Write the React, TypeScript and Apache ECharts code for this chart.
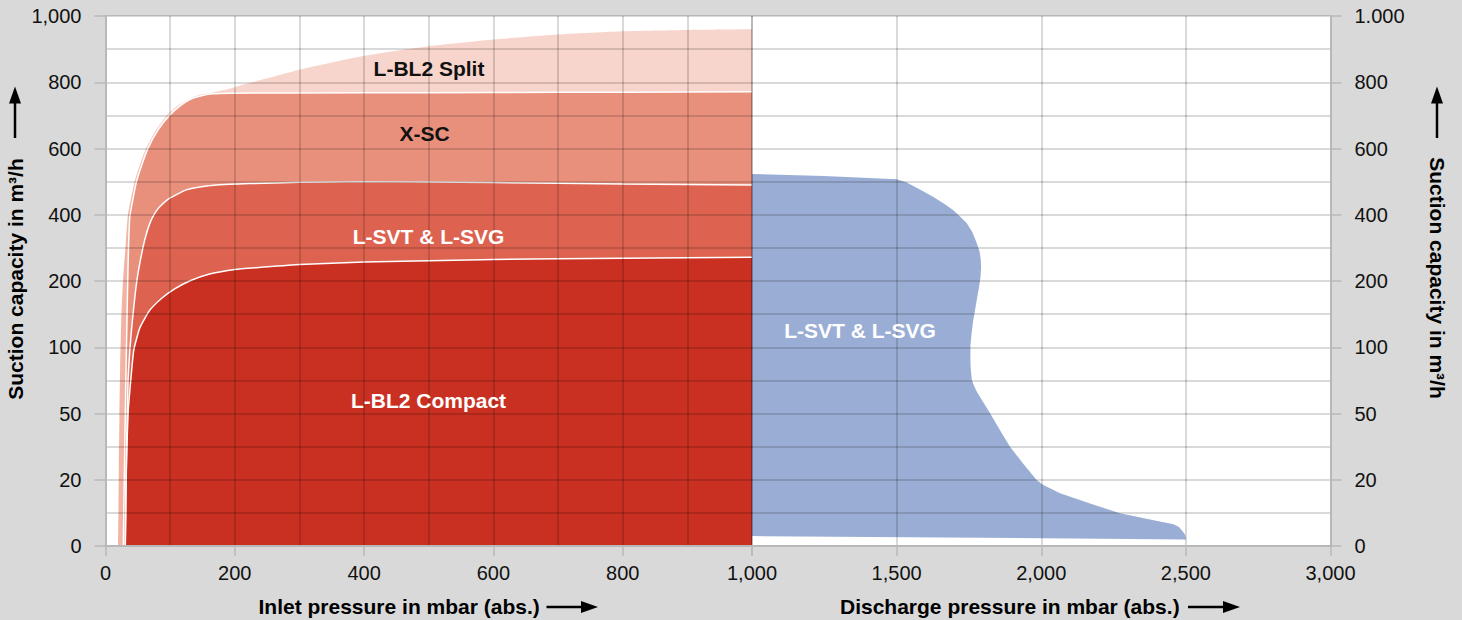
import React, { useEffect, useRef } from "react";
import * as echarts from "echarts";

// ---- Axis definitions ----
const Y_TICKS = [0, 20, 50, 100, 200, 400, 600, 800, 1000];
const LEFT_Y_LABELS = ["0", "20", "50", "100", "200", "400", "600", "800", "1,000"];
const RIGHT_Y_LABELS = ["0", "20", "50", "100", "200", "400", "600", "800", "1.000"];
const INLET_TICKS = [0, 200, 400, 600, 800, 1000];
const INLET_LABELS = ["0", "200", "400", "600", "800", "1,000"];
const DISCHARGE_TICKS = [1000, 1500, 2000, 2500, 3000];
const DISCHARGE_LABELS = ["", "1,500", "2,000", "2,500", "3,000"];

// ---- Series data: pressure (mbar) / suction capacity (m3/h) ----
const SPLIT_P = [19.5, 20.6, 21.6, 22.6, 24.4, 26.7, 29.1, 30.6, 32.6, 34.9, 39.6, 45.3, 53, 63.1, 78.5, 96.3, 111.7, 128.7, 145.7, 164.3, 185, 200, 225, 250, 300, 400, 500, 600, 700, 800, 900, 1000];
const SPLIT_Q = [0, 24.4, 49.3, 82.8, 141, 194, 257, 294, 348, 402, 451, 502, 550, 602, 657, 704, 730, 749, 762, 768, 777, 785, 799, 812, 838, 880, 909, 929, 944, 954, 958, 960];

const XSC_P = [27.5, 29.1, 30.6, 32.1, 33.7, 34.8, 35.7, 36.6, 37.6, 42.2, 47.9, 56.1, 65.8, 81.3, 99.4, 114.8, 130.3, 145.7, 165.8, 192, 400, 600, 800, 1000];
const XSC_Q = [0, 20.8, 49.3, 91.9, 167, 239, 309, 357, 394, 445, 500, 550, 601, 656, 701, 728, 748, 758, 765, 767, 768, 769, 770, 771];

const SVT_P = [30.6, 32.1, 33.7, 34.9, 37.6, 40.2, 42.7, 47.6, 53, 60.7, 68.5, 76.2, 83.9, 99.4, 125, 146, 172, 223, 300, 400, 600, 800, 1000];
const SVT_Q = [0, 24.4, 49.3, 75.3, 97.9, 126, 151, 194, 253, 324, 374, 404, 424, 450, 475, 484, 490, 494, 498, 500, 497, 493, 490];

const COMPACT_P = [30.6, 31.4, 32.9, 35.2, 39.1, 43.7, 53, 68.5, 87, 107, 130, 161, 200, 238, 300, 400, 600, 800, 1000];
const COMPACT_Q = [0, 13.9, 33.5, 52.6, 75.3, 97.9, 129, 156, 174, 188, 200, 221, 235, 241, 250, 257, 265, 269, 272];

// discharge side outline (top/right edge, then back along the bottom)
const BLUE_P = [1000, 1249, 1500, 1535, 1577, 1626, 1667, 1695, 1719, 1742, 1761, 1777, 1787, 1791, 1792, 1790, 1785, 1778, 1771, 1764, 1759, 1755, 1755, 1756, 1760, 1768, 1777, 1799, 1823, 1857, 1892, 1937, 1984, 2007, 2030, 2065, 2169, 2272, 2376, 2457, 2476, 2490, 2498, 2500, 1000];
const BLUE_Q = [523, 517, 507, 497, 478, 454, 432, 414, 395, 375, 349, 315, 288, 263, 242, 212, 191, 174, 156, 138, 120, 102, 91.9, 84.3, 75.3, 70.8, 66.6, 58.7, 50.2, 42.5, 35, 27.4, 19.9, 18.4, 17.4, 15.9, 12.8, 9.9, 8.0, 6.6, 5.7, 4.3, 3.3, 2.0, 3.0];

const COLORS = {
  split: "#f8d5cc",
  splitLow: "#f2b3a4",
  xsc: "#e9907c",
  svt: "#dd6350",
  compact: "#c93022",
  blue: "#9aaed5",
};

const FONT = '"Liberation Sans", Arial, Helvetica, sans-serif';
const BOLD = `bold 21px ${FONT}`;
const AXIS = "#b8b8b8";
const GRID = "rgba(0,0,0,0.2)";

function toIdx(v: number): number {
  for (let i = 0; i < Y_TICKS.length - 1; i++) {
    if (v <= Y_TICKS[i + 1]) return i + (v - Y_TICKS[i]) / (Y_TICKS[i + 1] - Y_TICKS[i]);
  }
  return Y_TICKS.length - 1;
}

function pairs(P: number[], Q: number[]) {
  return P.map((p, i) => [p, toIdx(Q[i])]);
}

function area(name: string, P: number[], Q: number[], color: any, stroke: boolean) {
  return {
    type: "line",
    name,
    xAxisIndex: 0,
    yAxisIndex: 0,
    data: pairs(P, Q),
    symbol: "none",
    showSymbol: false,
    smooth: 0.15,
    silent: true,
    lineStyle: { color: "#ffffff", width: stroke ? 1.5 : 0 },
    areaStyle: { color, opacity: 1 },
    z: 2,
  };
}

function arrow(x1: number, y1: number, x2: number, y2: number) {
  const dx = x2 - x1;
  const dy = y2 - y1;
  const L = Math.hypot(dx, dy);
  const ux = dx / L;
  const uy = dy / L;
  const headLen = 17;
  const headW = 6;
  const bx = x2 - ux * headLen;
  const by = y2 - uy * headLen;
  const px = -uy;
  const py = ux;
  return [
    {
      type: "line",
      z: 20,
      silent: true,
      shape: { x1, y1, x2: bx + ux * 2, y2: by + uy * 2 },
      style: { stroke: "#000", lineWidth: 2.5 },
    },
    {
      type: "polygon",
      z: 20,
      silent: true,
      shape: {
        points: [
          [x2, y2],
          [bx + px * headW, by + py * headW],
          [bx - px * headW, by - py * headW],
        ],
      },
      style: { fill: "#000" },
    },
  ];
}

function text(t: string, x: number, y: number, fill: string, extra: any = {}) {
  return {
    type: "text",
    x,
    y,
    z: 20,
    silent: true,
    ...extra,
    style: { text: t, fill, font: BOLD, align: extra.align || "center", verticalAlign: "middle" },
  };
}

function xAxisBase(gridIndex: number, min: number, max: number, interval: number, ticks: number[], labels: string[], minor: boolean) {
  return {
    type: "value",
    gridIndex,
    min,
    max,
    interval,
    z: 5,
    axisLine: { show: true, onZero: false, lineStyle: { color: AXIS, width: 2 } },
    axisTick: { show: true, length: 10, lineStyle: { color: AXIS, width: 1.5 } },
    axisLabel: {
      margin: 17,
      fontSize: 20,
      color: "#111",
      fontFamily: FONT,
      showMinLabel: true,
      showMaxLabel: true,
      formatter: (v: number) => {
        const i = ticks.indexOf(v);
        return i >= 0 ? labels[i] : "";
      },
    },
    splitLine: { show: true, lineStyle: { color: GRID, width: 1.5 } },
    minorTick: { show: false, splitNumber: 2 },
    minorSplitLine: { show: minor, lineStyle: { color: GRID, width: 1.5 } },
  };
}

function yAxisBase(gridIndex: number, position: string, labels: string[]) {
  return {
    type: "value",
    gridIndex,
    position,
    min: 0,
    max: Y_TICKS.length - 1,
    interval: 1,
    z: 5,
    axisLine: { show: true, lineStyle: { color: AXIS, width: 2 } },
    axisTick: { show: true, length: 11, lineStyle: { color: AXIS, width: 1.5 } },
    axisLabel: {
      margin: 24,
      fontSize: 20,
      color: "#111",
      fontFamily: FONT,
      showMinLabel: true,
      showMaxLabel: true,
      formatter: (v: number) => labels[Math.round(v)] ?? "",
    },
    splitLine: { show: true, lineStyle: { color: GRID, width: 1.5 } },
    minorTick: { show: false, splitNumber: 2 },
    minorSplitLine: { show: true, lineStyle: { color: GRID, width: 1.5 } },
  };
}

export default function App() {
  const ref = useRef<HTMLDivElement>(null);

  useEffect(() => {
    if (!ref.current) return;
    const chart = echarts.init(ref.current, null, { renderer: "svg" });
    const blueData = pairs(BLUE_P, BLUE_Q);
    const splitFill = new echarts.graphic.LinearGradient(0, 0, 0, 1, [
      { offset: 0, color: COLORS.split },
      { offset: 0.16, color: COLORS.split },
      { offset: 0.36, color: COLORS.splitLow },
      { offset: 1, color: COLORS.splitLow },
    ]);

    const option: any = {
      animation: false,
      backgroundColor: "#d9d9d9",
      textStyle: { fontFamily: FONT },
      grid: [
        { left: 105.5, top: 16, width: 646.5, height: 530, show: true, backgroundColor: "#ffffff", borderWidth: 0 },
        { left: 752, top: 16, width: 578.5, height: 530, show: true, backgroundColor: "#ffffff", borderWidth: 0 },
      ],
      xAxis: [
        xAxisBase(0, 0, 1000, 200, INLET_TICKS, INLET_LABELS, true),
        xAxisBase(1, 1000, 3000, 500, DISCHARGE_TICKS, DISCHARGE_LABELS, false),
      ],
      yAxis: [yAxisBase(0, "left", LEFT_Y_LABELS), yAxisBase(1, "right", RIGHT_Y_LABELS)],
      series: [
        area("L-BL2 Split", SPLIT_P, SPLIT_Q, splitFill, false),
        area("X-SC", XSC_P, XSC_Q, COLORS.xsc, true),
        area("L-SVT & L-SVG", SVT_P, SVT_Q, COLORS.svt, true),
        area("L-BL2 Compact", COMPACT_P, COMPACT_Q, COLORS.compact, true),
        {
          type: "custom",
          name: "L-SVT & L-SVG discharge",
          xAxisIndex: 1,
          yAxisIndex: 1,
          data: blueData,
          silent: true,
          z: 2,
          renderItem: (params: any, api: any) => {
            if (params.dataIndex !== 0) return null;
            const points = blueData.map((d) => api.coord(d));
            return { type: "polygon", shape: { points }, style: { fill: COLORS.blue } };
          },
        },
      ],
      graphic: {
        elements: [
          text("L-BL2 Split", 429, 68, "#111"),
          text("X-SC", 424.5, 133, "#111"),
          text("L-SVT & L-SVG", 428.5, 236, "#ffffff"),
          text("L-BL2 Compact", 428.5, 400, "#ffffff"),
          text("L-SVT & L-SVG", 860, 330, "#ffffff"),
          text("Suction capacity in m³/h", 15, 279, "#000", { rotation: Math.PI / 2 }),
          text("Suction capacity in m³/h", 1437, 278, "#000", { rotation: -Math.PI / 2 }),
          text("Inlet pressure in mbar (abs.)", 258.5, 606, "#000", { align: "left" }),
          text("Discharge pressure in mbar (abs.)", 840, 606, "#000", { align: "left" }),
          ...arrow(15, 138, 15, 86.5),
          ...arrow(1437, 138, 1437, 86.5),
          ...arrow(546.5, 607, 598, 607),
          ...arrow(1188, 607, 1240, 607),
        ],
      },
    };

    chart.setOption(option);
    return () => chart.dispose();
  }, []);

  return (
    <div
      ref={ref}
      style={{ position: "fixed", left: 0, top: 0, width: 1462, height: 620, background: "#d9d9d9" }}
    />
  );
}
